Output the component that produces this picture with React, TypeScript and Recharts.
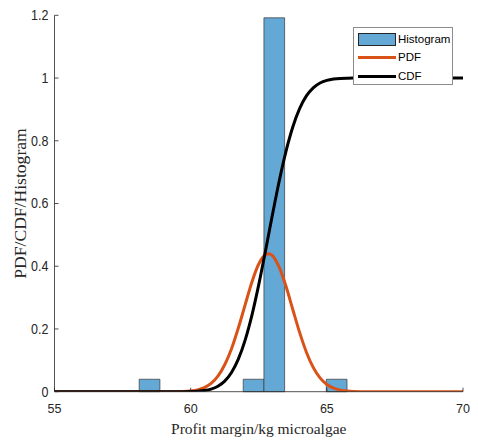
import React from 'react';
import { ComposedChart, Line, XAxis, YAxis, ReferenceArea } from 'recharts';

// ---- data ----
const xTicks = [55, 60, 65, 70];
const yTicks = [0, 0.2, 0.4, 0.6, 0.8, 1, 1.2];
const yTickLabels = ['0', '0.2', '0.4', '0.6', '0.8', '1', '1.2'];

const binStart = [58.11, 61.93, 62.69, 64.98];
const binEnd = [58.87, 62.69, 63.45, 65.74];
const binHeight = [0.0397, 0.0397, 1.192, 0.0397];

const pdfX = [55, 59.5, 60, 60.25, 60.5, 60.75, 61, 61.25, 61.5, 61.75, 62, 62.25, 62.5, 62.75, 62.85, 63, 63.25, 63.5, 63.75, 64, 64.25, 64.5, 64.75, 65, 65.25, 65.5, 65.75, 66, 66.5, 70];
const pdfY = [0, 0, 0.0025, 0.0059, 0.0129, 0.0263, 0.0495, 0.0858, 0.137, 0.203, 0.277, 0.35, 0.407, 0.437, 0.44, 0.434, 0.397, 0.336, 0.262, 0.189, 0.126, 0.0774, 0.0439, 0.023, 0.0111, 0.005, 0.002, 0.0008, 0, 0];

const cdfX = [55, 59.5, 60, 60.25, 60.5, 60.75, 61, 61.25, 61.5, 61.75, 62, 62.25, 62.5, 62.75, 63, 63.25, 63.5, 63.75, 64, 64.25, 64.5, 64.75, 65, 65.25, 65.5, 65.75, 66, 66.5, 70];
const cdfY = [0, 0, 0.0006, 0.0015, 0.0037, 0.0082, 0.0173, 0.0336, 0.0611, 0.1036, 0.1643, 0.2441, 0.3413, 0.4503, 0.5632, 0.6711, 0.7664, 0.844, 0.9024, 0.9429, 0.9688, 0.9841, 0.9925, 0.9967, 0.9987, 0.9995, 0.9998, 1, 1];

const legendLabels = ['Histogram', 'PDF', 'CDF'];

const pdfData = pdfX.map((x, i) => ({ x, pdf: pdfY[i] }));
const cdfData = cdfX.map((x, i) => ({ x, cdf: cdfY[i] }));

// ---- style ----
const AXIS = '#262626';
const BAR_FILL = '#64A8D6';
const PDF_COLOR = '#D95319';
const CDF_COLOR = '#000000';
const SANS = '"Liberation Sans", Arial, sans-serif';
const SERIF = '"Liberation Serif", "Times New Roman", serif';

const YTick = (props: any) => {
  const { x, y, payload } = props;
  const idx = yTicks.indexOf(payload.value);
  const label = idx >= 0 ? yTickLabels[idx] : String(payload.value);
  return (
    <g>
      <line x1={x} x2={x + 4} y1={y} y2={y} stroke={AXIS} strokeWidth={0.8} />
      <text
        x={x - 6}
        y={y}
        textAnchor="end"
        dominantBaseline="central"
        fontFamily={SANS}
        fontSize={12.5}
        fill={AXIS}
        transform={`translate(0 ${y}) scale(1 1.2) translate(0 ${-y})`}
      >
        {label}
      </text>
    </g>
  );
};

const XTick = (props: any) => {
  const { x, y, payload } = props;
  return (
    <g>
      <line x1={x} x2={x} y1={y} y2={y - 4} stroke={AXIS} strokeWidth={0.8} />
      <text
        x={x}
        y={y + 21}
        textAnchor="middle"
        fontFamily={SANS}
        fontSize={12.5}
        fill={AXIS}
      >
        {String(payload.value)}
      </text>
    </g>
  );
};

const XTitle = (props: any) => {
  const vb = props.viewBox || { x: 54.5, y: 391.7, width: 408.5, height: 50.3 };
  return (
    <text
      x={vb.x + vb.width / 2}
      y={vb.y + 42.5}
      textAnchor="middle"
      fontFamily={SERIF}
      fontSize={15.5}
      fill={AXIS}
    >
      Profit margin/kg microalgae
    </text>
  );
};

const YTitle = (props: any) => {
  const vb = props.viewBox || { x: 0, y: 15.3, width: 54.5, height: 376.4 };
  const cy = vb.y + vb.height / 2;
  return (
    <text
      x={0}
      y={0}
      textAnchor="middle"
      fontFamily={SERIF}
      fontSize={16}
      fill={AXIS}
      transform={`translate(26 ${cy}) rotate(-90) scale(1.1 1)`}
    >
      PDF/CDF/Histogram
    </text>
  );
};

const LegendBox = () => (
  <div
    style={{
      position: 'absolute',
      left: 353,
      top: 27,
      width: 100,
      height: 58,
      background: '#fff',
      border: '1px solid #8c8c8c',
      boxSizing: 'border-box',
      fontFamily: SANS,
      fontSize: 11.5,
      color: '#000',
    }}
  >
    <div
      style={{
        position: 'absolute',
        left: 3.5,
        top: 4.5,
        width: 38,
        height: 13,
        background: BAR_FILL,
        border: '1px solid #262626',
        boxSizing: 'border-box',
      }}
    />
    <div style={{ position: 'absolute', left: 3.5, top: 28, width: 38, height: 3, background: PDF_COLOR }} />
    <div style={{ position: 'absolute', left: 3.5, top: 46.5, width: 38, height: 3, background: CDF_COLOR }} />
    <div style={{ position: 'absolute', left: 44, top: 3.5, lineHeight: '15px' }}>{legendLabels[0]}</div>
    <div style={{ position: 'absolute', left: 44, top: 22, lineHeight: '15px' }}>{legendLabels[1]}</div>
    <div style={{ position: 'absolute', left: 44, top: 40.5, lineHeight: '15px' }}>{legendLabels[2]}</div>
  </div>
);

export default function App() {
  return (
    <div style={{ position: 'absolute', left: 0, top: 0, width: 478, height: 442, background: '#fff', overflow: 'hidden' }}>
      <ComposedChart
        width={478}
        height={442}
        margin={{ top: 15.3, right: 15, bottom: 0, left: 0 }}
      >
        <XAxis
          type="number"
          dataKey="x"
          domain={[55, 70]}
          ticks={xTicks}
          allowDataOverflow
          stroke={AXIS}
          strokeWidth={0.8}
          tickLine={false}
          tickSize={0}
          tickMargin={0}
          tick={<XTick />}
          height={50.3}
          interval={0}
          label={<XTitle />}
        />
        <YAxis
          type="number"
          domain={[0, 1.2]}
          ticks={yTicks}
          allowDataOverflow
          stroke={AXIS}
          strokeWidth={0.8}
          tickLine={false}
          tickSize={0}
          tickMargin={0}
          tick={<YTick />}
          width={54.5}
          interval={0}
          label={<YTitle />}
        />
        {binStart.map((s, i) => (
          <ReferenceArea
            key={`bin-${i}`}
            x1={s}
            x2={binEnd[i]}
            y1={0}
            y2={binHeight[i]}
            fill={BAR_FILL}
            fillOpacity={1}
            stroke="#3a3a3a"
            strokeWidth={0.8}
            strokeOpacity={0.9}
          />
        ))}
        <Line
          data={pdfData}
          dataKey="pdf"
          type="monotone"
          stroke={PDF_COLOR}
          strokeWidth={3}
          dot={false}
          activeDot={false}
          isAnimationActive={false}
        />
        <Line
          data={cdfData}
          dataKey="cdf"
          type="monotone"
          stroke={CDF_COLOR}
          strokeWidth={3}
          dot={false}
          activeDot={false}
          isAnimationActive={false}
        />
      </ComposedChart>
      <LegendBox />
    </div>
  );
}
